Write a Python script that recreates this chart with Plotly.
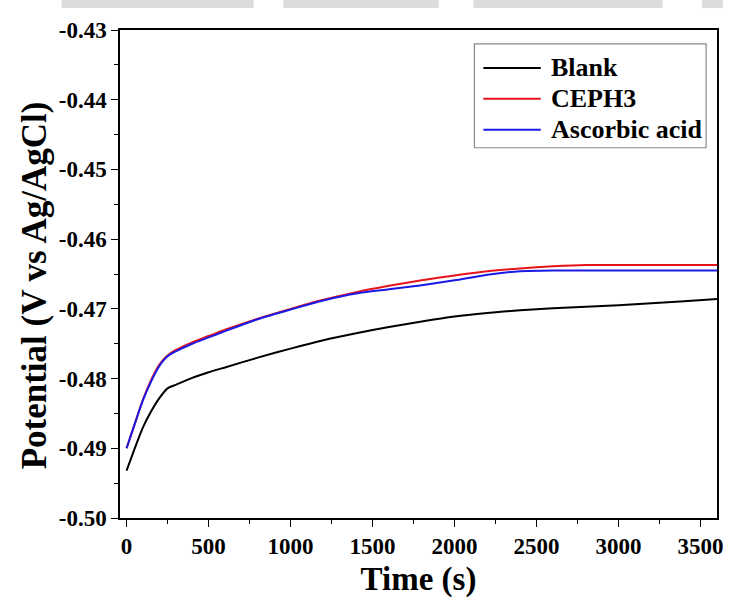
import plotly.graph_objects as go

# Open-circuit potential vs time for the three solutions
time_blank = [0, 50, 100, 150, 200, 250, 300, 400, 500, 600, 800, 1000, 1200, 1400,
              1600, 1800, 2000, 2200, 2400, 2600, 2800, 3000, 3200, 3400, 3600]
pot_blank = [-0.4932, -0.4900, -0.4870, -0.4847, -0.4828, -0.4814, -0.4809, -0.4799,
             -0.4791, -0.4784, -0.4770, -0.4757, -0.4745, -0.4735, -0.4726, -0.4718,
             -0.4711, -0.4706, -0.4702, -0.4699, -0.4697, -0.4695, -0.4692, -0.4689,
             -0.4686]

time_ceph = [0, 50, 100, 150, 200, 250, 300, 400, 500, 600, 800, 1000, 1200, 1400,
             1600, 1800, 2000, 2200, 2400, 2600, 2800, 3000, 3200, 3400, 3600]
pot_ceph = [-0.4900, -0.4865, -0.4830, -0.4802, -0.4780, -0.4767, -0.4759, -0.4748,
            -0.4739, -0.4730, -0.4714, -0.4700, -0.4687, -0.4676, -0.4667, -0.4659,
            -0.4652, -0.4646, -0.4642, -0.4639, -0.4637, -0.4637, -0.4637, -0.4637,
            -0.4637]

time_asc = [0, 50, 100, 150, 200, 250, 300, 400, 500, 600, 800, 1000, 1200, 1400,
            1600, 1800, 2000, 2200, 2400, 2600, 2800, 3000, 3200, 3400, 3600]
pot_asc = [-0.4900, -0.4865, -0.4831, -0.4804, -0.4782, -0.4768, -0.4761, -0.4750,
           -0.4741, -0.4732, -0.4715, -0.4701, -0.4688, -0.4678, -0.4672, -0.4666,
           -0.4659, -0.4651, -0.4646, -0.4645, -0.4645, -0.4645, -0.4645, -0.4645,
           -0.4645]

series_names = ["Blank", "CEPH3", "Ascorbic acid"]
series_colors = ["#000000", "#e8141c", "#1a1ae6"]

x_ticks = [0, 500, 1000, 1500, 2000, 2500, 3000, 3500]
y_ticks = [-0.50, -0.49, -0.48, -0.47, -0.46, -0.45, -0.44, -0.43]
y_ticktext = [f"{v:.2f}" for v in y_ticks]

FONT = "Liberation Serif"
W, H = 729, 598
ML, MR, MT, MB = 120, 6, 30, 79
PW, PH = W - ML - MR, H - MT - MB


def px_x(px):
    return (px - ML) / PW


def px_y(py):
    return (H - MB - py) / PH


fig = go.Figure()
for t, v, name, col in zip([time_blank, time_ceph, time_asc],
                           [pot_blank, pot_ceph, pot_asc],
                           series_names, series_colors):
    fig.add_trace(go.Scatter(x=t, y=v, mode="lines", name=name, showlegend=False,
                             line=dict(color=col, width=2, shape="spline", smoothing=0.6)))

axis_common = dict(
    showline=True, linecolor="black", linewidth=1.5, mirror=True,
    ticks="outside", ticklen=7, tickwidth=1.2, tickcolor="black",
    showgrid=False, zeroline=False,
    tickfont=dict(family=FONT, size=23, color="black", weight="bold"),
)

fig.update_xaxes(
    range=[-40, 3600], tickvals=x_ticks,
    minor=dict(dtick=250, tick0=0, ticks="outside", ticklen=4, tickwidth=1.2, tickcolor="black"),
    title=dict(text="<b>Time (s)</b>", font=dict(family=FONT, size=33, color="black"), standoff=10),
    **axis_common,
)
fig.update_yaxes(
    range=[-0.50, -0.43], tickvals=y_ticks, ticktext=y_ticktext,
    minor=dict(dtick=0.005, tick0=-0.50, ticks="outside", ticklen=4, tickwidth=1.2, tickcolor="black"),
    **axis_common,
)

# y-axis title
fig.add_annotation(xref="paper", yref="paper", x=px_x(34), y=px_y(286),
                   xanchor="center", yanchor="middle", textangle=-90, showarrow=False,
                   text="<b>Potential (V vs Ag/AgCl)</b>",
                   font=dict(family=FONT, size=35, color="black"))

# light grey band along the top edge of the page
for x0, x1 in [(61, 255), (285, 442), (477, 668), (708, 729)]:
    fig.add_shape(type="rect", xref="paper", yref="paper",
                  x0=px_x(x0), x1=px_x(x1), y0=px_y(8), y1=px_y(0),
                  fillcolor="#dcdcdc", line=dict(width=0), layer="below")

# legend box with line samples
fig.add_shape(type="rect", xref="paper", yref="paper",
              x0=px_x(478), x1=px_x(712), y0=px_y(148), y1=px_y(44),
              fillcolor="white", line=dict(color="#888888", width=1.2))
for i, (name, col) in enumerate(zip(series_names, series_colors)):
    yy = px_y(68 + 31 * i)
    fig.add_shape(type="line", xref="paper", yref="paper",
                  x0=px_x(487), x1=px_x(545), y0=yy, y1=yy,
                  line=dict(color=col, width=2))
    fig.add_annotation(xref="paper", yref="paper", x=px_x(553), y=yy,
                       xanchor="left", yanchor="middle", showarrow=False,
                       text=f"<b>{name}</b>",
                       font=dict(family=FONT, size=26, color="black"))

fig.update_layout(
    width=W, height=H,
    margin=dict(l=ML, r=MR, t=MT, b=MB),
    paper_bgcolor="white", plot_bgcolor="white",
    showlegend=False,
)

fig.write_html("out.html")
